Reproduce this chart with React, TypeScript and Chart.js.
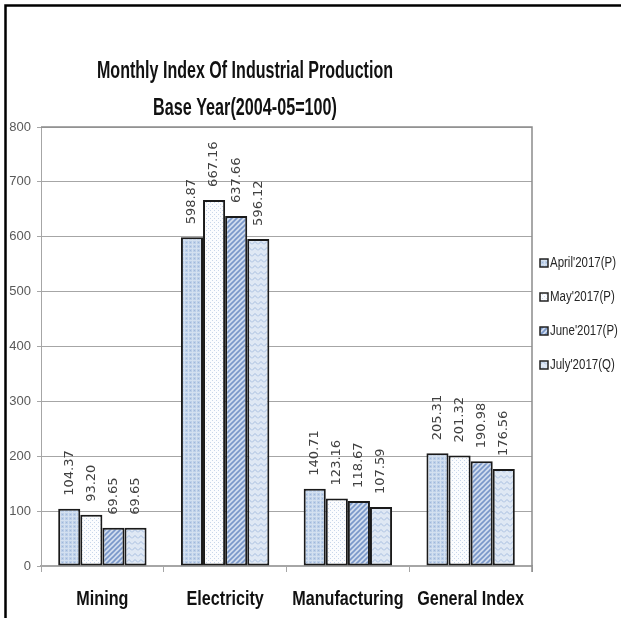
import React, { useEffect, useRef } from 'react';
import { Chart, registerables } from 'chart.js';

Chart.register(...registerables);

const categories = ['Mining', 'Electricity', 'Manufacturing', 'General Index'];
const seriesNames = ["April'2017(P)", "May'2017(P)", "June'2017(P)", "July'2017(Q)"];
const aprilValues = [104.37, 598.87, 140.71, 205.31];
const mayValues = [93.2, 667.16, 123.16, 201.32];
const juneValues = [69.65, 637.66, 118.67, 190.98];
const julyValues = [69.65, 596.12, 107.59, 176.56];
const yMin = 0;
const yMax = 800;
const yStep = 100;
const titleLines = ['Monthly Index Of Industrial Production', 'Base Year(2004-05=100)'];

const SANS = '"Liberation Sans", Arial, sans-serif';
const CONDENSE = 0.77;

function makePattern(kind: string): CanvasPattern | string {
  const c = document.createElement('canvas');
  const size = kind === 'june' ? 5 : kind === 'july' ? 6 : 4;
  c.width = size;
  c.height = size;
  const g = c.getContext('2d');
  if (!g) return '#c6d6ec';
  if (kind === 'april') {
    g.fillStyle = '#bccfe8';
    g.fillRect(0, 0, size, size);
    g.fillStyle = '#d3e0f0';
    g.fillRect(0, 0, size, 1);
    g.fillRect(0, 0, 1, size);
    g.fillStyle = '#9fb7da';
    g.fillRect(2, 2, 1, 1);
  } else if (kind === 'may') {
    g.fillStyle = '#fbfcfe';
    g.fillRect(0, 0, size, size);
    g.fillStyle = '#c8d6ea';
    g.fillRect(0, 0, 1, 1);
    g.fillRect(2, 2, 1, 1);
  } else if (kind === 'june') {
    g.fillStyle = '#d0dcee';
    g.fillRect(0, 0, size, size);
    g.strokeStyle = '#7997c9';
    g.lineWidth = 1.6;
    g.beginPath();
    g.moveTo(-1, size + 1);
    g.lineTo(size + 1, -1);
    g.moveTo(-1, 1);
    g.lineTo(1, -1);
    g.moveTo(size - 1, size + 1);
    g.lineTo(size + 1, size - 1);
    g.stroke();
  } else {
    g.fillStyle = '#dfe8f4';
    g.fillRect(0, 0, size, size);
    g.strokeStyle = '#a6bddf';
    g.lineWidth = 1;
    g.beginPath();
    g.moveTo(0, 4.5);
    g.lineTo(3, 1.5);
    g.lineTo(6, 4.5);
    g.stroke();
  }
  const p = g.createPattern(c, 'repeat');
  return p || '#c6d6ec';
}

function condensedText(ctx: CanvasRenderingContext2D, text: string, x: number, y: number, factor: number) {
  const w = ctx.measureText(text).width;
  ctx.fillText(text, x, y, w * factor);
}

const decorPlugin = {
  id: 'decor',
  beforeDraw(chart: any) {
    const ctx = chart.ctx;
    ctx.save();
    ctx.fillStyle = '#ffffff';
    ctx.fillRect(0, 0, chart.width, chart.height);
    ctx.restore();
  },
  afterDatasetsDraw(chart: any) {
    const ctx = chart.ctx;
    ctx.save();
    ctx.font = '13px "DejaVu Sans", sans-serif';
    ctx.fillStyle = '#404040';
    chart.data.datasets.forEach((ds: any, i: number) => {
      const meta = chart.getDatasetMeta(i);
      meta.data.forEach((el: any, j: number) => {
        const v = ds.data[j] as number;
        ctx.save();
        ctx.translate(el.x, el.y - 13);
        ctx.rotate(-Math.PI / 2);
        ctx.textAlign = 'left';
        ctx.textBaseline = 'middle';
        ctx.fillText(v.toFixed(2), 0, 0);
        ctx.restore();
      });
    });
    ctx.restore();
  },
  afterDraw(chart: any) {
    const ctx = chart.ctx;
    const a = chart.chartArea;
    ctx.save();
    // plot area border (top & right)
    ctx.strokeStyle = '#8c8c8c';
    ctx.lineWidth = 1.5;
    ctx.beginPath();
    ctx.moveTo(a.left, a.top);
    ctx.lineTo(a.right, a.top);
    ctx.lineTo(a.right, a.bottom + 6);
    ctx.stroke();
    // outer frame
    ctx.strokeStyle = '#000000';
    ctx.lineWidth = 2.5;
    ctx.beginPath();
    ctx.moveTo(5.5, chart.height);
    ctx.lineTo(5.5, 5.5);
    ctx.lineTo(chart.width, 5.5);
    ctx.stroke();
    // title
    ctx.fillStyle = '#111111';
    ctx.textAlign = 'center';
    ctx.textBaseline = 'alphabetic';
    ctx.font = 'bold 23px ' + SANS;
    const cx = 245;
    ctx.fillText(titleLines[0], cx, 78, 296);
    ctx.fillText(titleLines[1], cx, 115, 184);
    // category labels, placed from the x scale
    const xs = chart.scales.x;
    ctx.font = 'bold 21px ' + SANS;
    ctx.fillStyle = '#111111';
    ctx.textAlign = 'center';
    categories.forEach((lab, i) => {
      condensedText(ctx, lab, xs.getPixelForValue(i), a.bottom + 39, CONDENSE);
    });
    // legend
    const legendX = a.right + 8;
    const legendY0 = 263;
    const legendGap = 34;
    ctx.font = '14px ' + SANS;
    ctx.textAlign = 'left';
    ctx.textBaseline = 'middle';
    chart.data.datasets.forEach((ds: any, i: number) => {
      const y = legendY0 + i * legendGap;
      ctx.fillStyle = ds.backgroundColor;
      ctx.fillRect(legendX, y - 4, 8, 8);
      ctx.strokeStyle = '#222222';
      ctx.lineWidth = 1.5;
      ctx.strokeRect(legendX, y - 4, 8, 8);
      ctx.fillStyle = '#262626';
      condensedText(ctx, ds.label, legendX + 10, y, 0.82);
    });
    ctx.restore();
  },
};

export default function App() {
  const ref = useRef<HTMLCanvasElement | null>(null);

  useEffect(() => {
    document.body.style.margin = '0';
    const canvas = ref.current;
    if (!canvas) return;
    const seriesValues = [aprilValues, mayValues, juneValues, julyValues];
    const kinds = ['april', 'may', 'june', 'july'];
    const chart = new Chart(canvas, {
      type: 'bar',
      data: {
        labels: categories,
        datasets: seriesValues.map((vals, i) => ({
          label: seriesNames[i],
          data: vals,
          backgroundColor: makePattern(kinds[i]) as any,
          borderColor: '#1a1a1a',
          borderWidth: 2,
          borderSkipped: false,
          barPercentage: 1,
          categoryPercentage: 0.72,
        })),
      },
      options: {
        animation: false,
        responsive: true,
        maintainAspectRatio: false,
        layout: { padding: { left: 0, top: 127, right: 89, bottom: 0 } },
        plugins: {
          legend: { display: false },
          title: { display: false },
          tooltip: { enabled: false },
        },
        scales: {
          x: {
            afterFit: (scale: any) => {
              scale.height = 52;
            },
            grid: {
              offset: true,
              drawOnChartArea: false,
              drawTicks: true,
              tickLength: 6,
              color: '#a6a6a6',
            },
            border: { color: '#a6a6a6', width: 1.5 },
            ticks: {
              display: false,
            },
          },
          y: {
            min: yMin,
            max: yMax,
            afterFit: (scale: any) => {
              scale.width = 41;
            },
            grid: {
              color: '#a6a6a6',
              lineWidth: 1,
              drawTicks: true,
              tickLength: 4,
            },
            border: { color: '#a6a6a6', width: 1 },
            ticks: {
              stepSize: yStep,
              padding: 6,
              color: '#595959',
              font: { family: SANS, size: 13 },
            },
          },
        },
      },
      plugins: [decorPlugin],
    });
    return () => chart.destroy();
  }, []);

  return (
    <div style={{ width: 621, height: 618, position: 'relative' }}>
      <canvas ref={ref} />
    </div>
  );
}
